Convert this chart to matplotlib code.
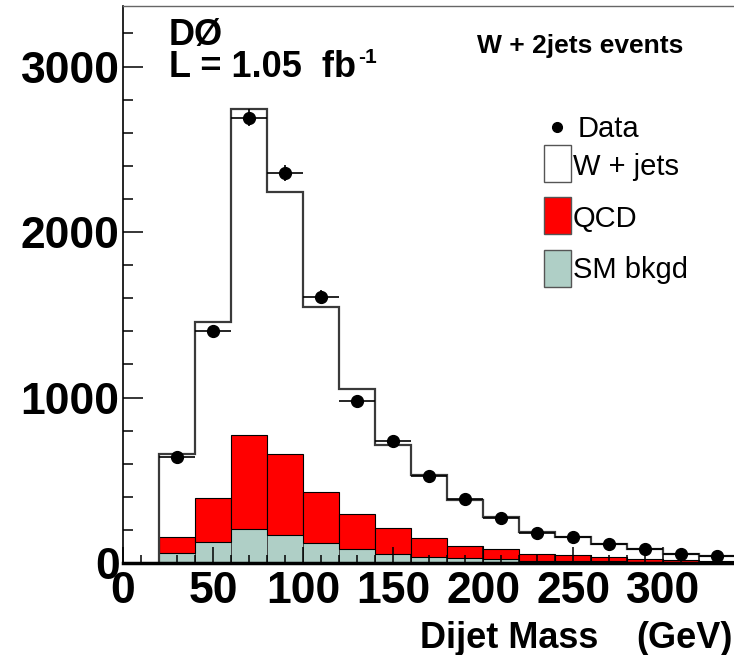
import numpy as np
import matplotlib
matplotlib.use('Agg')
import matplotlib.pyplot as plt
from matplotlib.patches import Rectangle
from matplotlib.lines import Line2D

plt.rcParams['font.family'] = ['Liberation Sans', 'DejaVu Sans']

# dijet mass bins (GeV)
mass_edges = [20, 40, 60, 80, 100, 120, 140, 160, 180, 200,
              220, 240, 260, 280, 300, 320, 340]
mass_centers = [30, 50, 70, 90, 110, 130, 150, 170, 190, 210,
                230, 250, 270, 290, 310, 330]

# stacked predictions, events per bin
sm_bkgd = [58, 127, 207, 169, 119, 87, 54, 38, 28, 22, 15, 12, 10, 8, 6, 5]
qcd = [97, 264, 566, 488, 312, 209, 156, 115, 77, 61, 39, 34, 28, 18, 12, 9]
wjets = [504, 1067, 1968, 1587, 1118, 755, 503, 379, 278, 193,
         135, 113, 75, 61, 34, 28]

# observed events and errors
data = [639, 1404, 2691, 2358, 1609, 981, 735, 526, 385, 272,
        179, 159, 115, 87, 52, 42]
data_err = [25, 37, 52, 49, 40, 31, 27, 23, 20, 16, 13, 13, 11, 9, 7, 6]
bin_halfwidth = 10

W, H = 734, 655
teal = '#afcfc6'


def px(x, y):
    return x / W, 1 - y / H


fig = plt.figure(figsize=(W / 100, H / 100), dpi=100)
ax = fig.add_axes([123 / W, 92 / H, 611 / W, 557 / H])

lo = mass_edges[:-1]
sm = np.array(sm_bkgd)
qc = np.array(qcd)
wj = np.array(wjets)
ax.bar(lo, sm, width=20, align='edge', color=teal, edgecolor='#444444',
       linewidth=0.7, zorder=1)
ax.bar(lo, qc, width=20, align='edge', bottom=sm, color='#ff0000',
       edgecolor='black', linewidth=0.8, zorder=1)
ax.bar(lo, wj, width=20, align='edge', bottom=sm + qc, color='white',
       linewidth=0, zorder=0.9)
ax.stairs(sm + qc + wj, mass_edges, baseline=0, color='#3a3a3a',
          linewidth=1.6, zorder=2)

ax.errorbar(mass_centers, data, xerr=bin_halfwidth, yerr=data_err, fmt='o',
            color='black', ms=8.5, elinewidth=1.2, capsize=0, zorder=3)

ax.set_xlim(0, 339.3)
ax.set_ylim(0, 3366)
ax.set_xticks([0, 50, 100, 150, 200, 250, 300])
ax.set_xticks(np.arange(0, 340, 10), minor=True)
ax.set_yticks([0, 1000, 2000, 3000])
ax.set_yticks(np.arange(0, 3366, 200), minor=True)
ax.tick_params(axis='both', which='both', direction='in', width=1.1,
               labelsize=32)
ax.tick_params(axis='y', which='major', length=14.4, pad=2.5)
ax.tick_params(axis='y', which='minor', length=7.2)
ax.tick_params(axis='x', which='major', length=11.5, pad=6)
ax.tick_params(axis='x', which='minor', length=5.8)
for lab in ax.get_xticklabels() + ax.get_yticklabels():
    lab.set_fontweight('bold')

ax.spines['right'].set_visible(False)
ax.spines['top'].set_color('#666666')
ax.spines['top'].set_linewidth(1.0)
ax.spines['left'].set_linewidth(1.2)
ax.spines['bottom'].set_linewidth(2.5)

# axis title
fig.text(*px(598, 648), 'Dijet Mass', ha='right', va='baseline',
         fontsize=26, fontweight='bold')
fig.text(*px(733, 648), '(GeV)', ha='right', va='baseline',
         fontsize=26, fontweight='bold')

# experiment and luminosity
fig.text(*px(169, 45), 'DØ', ha='left', va='baseline', fontsize=26,
         fontweight='bold')
lumi = fig.text(*px(169, 77), 'L = 1.05  fb', ha='left', va='baseline',
                fontsize=26, fontweight='bold')
fig.add_artist(matplotlib.text.Annotation(
    '-1', xy=(1.0, 1.0), xycoords=lumi, xytext=(1.5, 1.5),
    textcoords='offset points', ha='left', va='top', fontsize=15,
    fontweight='bold'))
fig.text(*px(477, 52.5), 'W + 2jets events', ha='left', va='baseline',
         fontsize=19, fontweight='bold')

# legend
fig.add_artist(Line2D([557 / W], [1 - 127 / H], marker='o', color='black',
                      ms=7, transform=fig.transFigure))
fig.text(*px(578, 137), 'Data', ha='left', va='baseline', fontsize=21)
entries = [('W + jets', 'white', 145, 174.5),
           ('QCD', '#ff0000', 197, 227),
           ('SM bkgd', teal, 250, 278.5)]
for label, colour, top, base in entries:
    x0, y0 = px(544, top + 37)
    fig.add_artist(Rectangle((x0, y0), 27 / W, 37 / H, facecolor=colour,
                             edgecolor='#555555', linewidth=1.0,
                             transform=fig.transFigure))
    fig.text(*px(573, base), label, ha='left', va='baseline', fontsize=21)

fig.savefig('out.png', dpi=100)
